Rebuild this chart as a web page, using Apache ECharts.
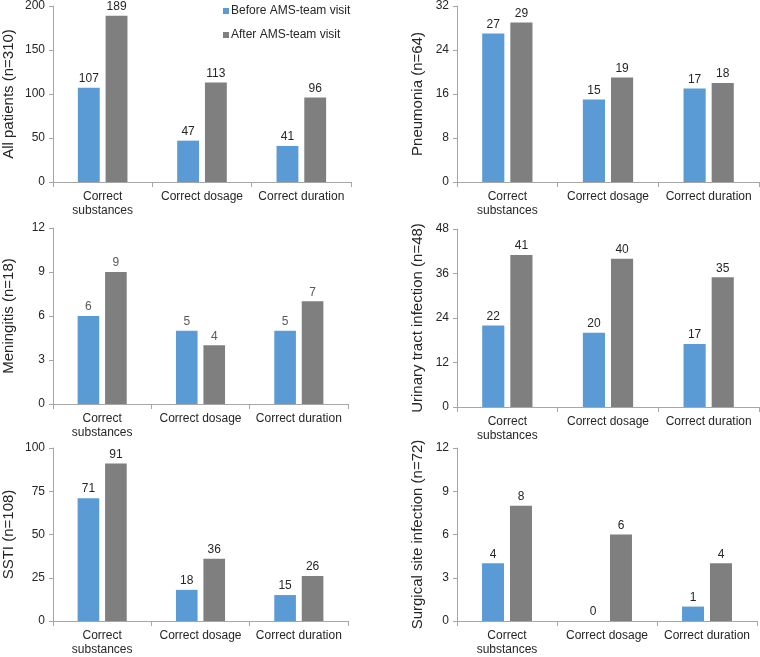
<!DOCTYPE html>
<html>
<head>
<meta charset="utf-8">
<script src="https://cdn.jsdelivr.net/npm/echarts@6/dist/echarts.min.js"></script>
<style>
html,body{margin:0;padding:0;background:#fff;}
#c{width:760px;height:657px;}
</style>
</head>
<body>
<div id="c"></div>
<script>
const categories = ['Correct\nsubstances', 'Correct dosage', 'Correct duration'];
const seriesNames = ['Before AMS-team visit', 'After AMS-team visit'];
const panelNames = ['All patients (n=310)', 'Pneumonia (n=64)', 'Meningitis (n=18)', 'Urinary tract infection (n=48)', 'SSTI (n=108)', 'Surgical site infection (n=72)'];
const beforeAll = [107, 47, 41];
const afterAll = [189, 113, 96];
const beforePneumonia = [27, 15, 17];
const afterPneumonia = [29, 19, 18];
const beforeMeningitis = [6, 5, 5];
const afterMeningitis = [9, 4, 7];
const beforeUrinary = [22, 20, 17];
const afterUrinary = [41, 40, 35];
const beforeSSTI = [71, 18, 15];
const afterSSTI = [91, 36, 26];
const beforeSurgical = [4, 0, 1];
const afterSurgical = [8, 6, 4];
const yMax = [200, 32, 12, 48, 100, 12];
const yInterval = [50, 8, 3, 12, 25, 3];

const beforeData = [beforeAll, beforePneumonia, beforeMeningitis, beforeUrinary, beforeSSTI, beforeSurgical];
const afterData = [afterAll, afterPneumonia, afterMeningitis, afterUrinary, afterSSTI, afterSurgical];

const grids = [
  {left: 52, top: 6, width: 299, height: 176},
  {left: 457, top: 5, width: 302, height: 177},
  {left: 53, top: 228, width: 295, height: 176},
  {left: 457, top: 229, width: 302, height: 178},
  {left: 52, top: 448, width: 296, height: 176},
  {left: 457, top: 448, width: 300, height: 177}
];
const nameGaps = [37, 32, 37, 32, 37, 32];
const blue = '#5B9BD5', gray = '#7F7F7F';
const axisCol = '#A6A6A6';
const textCol = '#262626';
const font = 'Liberation Sans, Arial, sans-serif';

const xAxes = [], yAxes = [], series = [];
for (let i = 0; i < 6; i++) {
  xAxes.push({
    type: 'category', gridIndex: i, data: categories,
    axisLine: {lineStyle: {color: axisCol, width: 1}},
    axisTick: {show: true, length: 5, lineStyle: {color: axisCol}},
    axisLabel: {color: textCol, fontSize: 12, fontFamily: font, margin: 8, lineHeight: 14, interval: 0}
  });
  yAxes.push({
    type: 'value', gridIndex: i, min: 0, max: yMax[i], interval: yInterval[i],
    name: panelNames[i], nameLocation: 'middle', nameGap: nameGaps[i],
    nameTextStyle: {color: textCol, fontSize: 15, fontFamily: font},
    axisLine: {show: true, lineStyle: {color: axisCol, width: 1}},
    axisTick: {show: true, length: 4, lineStyle: {color: axisCol}},
    axisLabel: {color: textCol, fontSize: 12, fontFamily: font, margin: 8},
    splitLine: {show: false}
  });
  const lbl = {show: true, position: 'top', distance: 3, color: i === 2 ? '#595959' : textCol, fontSize: 12, fontFamily: font};
  series.push({
    type: 'bar', name: seriesNames[0], xAxisIndex: i, yAxisIndex: i, data: beforeData[i],
    barWidth: '22%', barGap: '27%', itemStyle: {color: blue}, label: lbl, animation: false
  });
  series.push({
    type: 'bar', name: seriesNames[1], xAxisIndex: i, yAxisIndex: i, data: afterData[i],
    barWidth: '22%', barGap: '27%', itemStyle: {color: gray}, label: lbl, animation: false
  });
}

const chart = echarts.init(document.getElementById('c'), null, {renderer: 'canvas'});
chart.setOption({
  backgroundColor: '#fff',
  animation: false,
  legend: {
    data: seriesNames, orient: 'vertical', left: 218, top: 0,
    itemWidth: 6, itemHeight: 6, itemGap: 12, icon: 'rect',
    textStyle: {color: textCol, fontSize: 12, fontFamily: font, padding: [0, 0, 0, -3]}
  },
  grid: grids,
  xAxis: xAxes,
  yAxis: yAxes,
  series: series
});
</script>
</body>
</html>
